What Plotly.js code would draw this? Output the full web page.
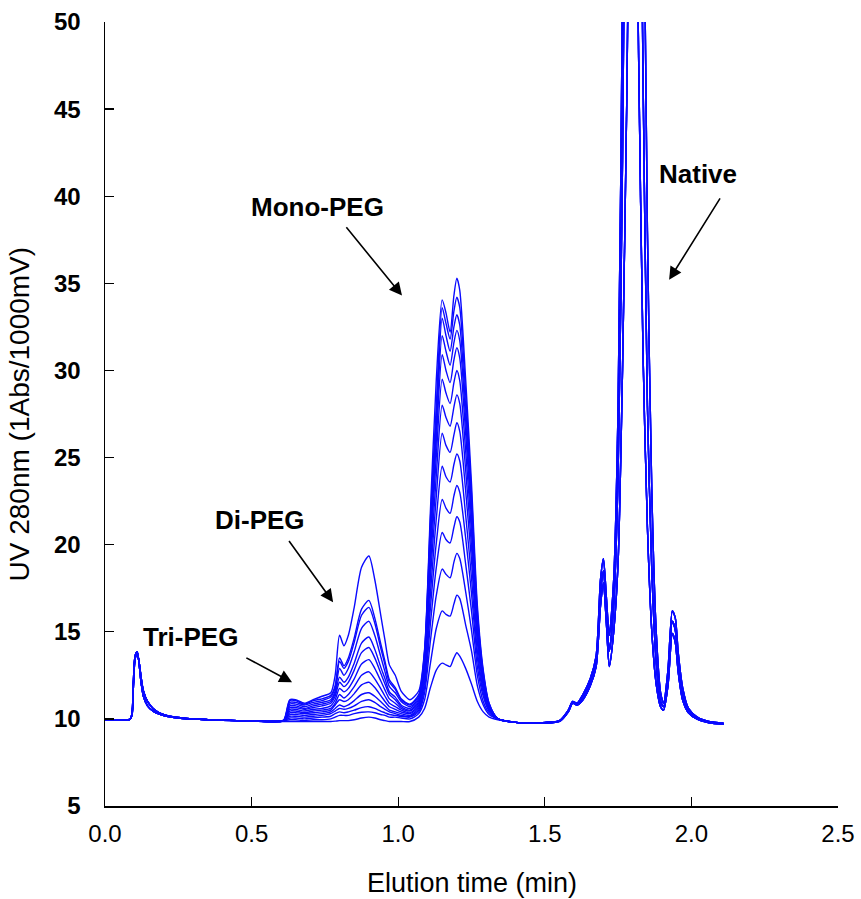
<!DOCTYPE html>
<html><head><meta charset="utf-8">
<script src="https://cdn.plot.ly/plotly-3.0.1.min.js"></script>
<style>html,body{margin:0;padding:0;background:#fff}#chart{width:861px;height:899px}</style>
</head><body><div id="chart"></div>
<script>
// ---- start segment (injection peak), shared ----
const timeStart = [0.00, 0.05, 0.085, 0.092, 0.097, 0.101, 0.105, 0.110, 0.116, 0.123, 0.131, 0.145, 0.164, 0.185, 0.21, 0.25, 0.28, 0.35, 0.45, 0.52];
const uvStartA  = [9.95, 9.95, 9.97, 10.3, 12.2, 13.4, 13.75, 13.85, 13.2, 12.1, 11.3, 10.75, 10.45, 10.28, 10.15, 10.05, 10.0, 9.95, 9.9, 9.87];
const uvStartB  = [9.95, 9.95, 9.97, 10.2, 11.9, 13.2, 13.6, 13.7, 13.3, 12.4, 11.6, 11.0, 10.6, 10.35, 10.2, 10.08, 10.02, 9.96, 9.9, 9.86];

// ---- PEG region (Tri-, Di-, Mono-PEG), one array per run ----
const timeMid = [0.58, 0.61, 0.63, 0.65, 0.68, 0.71, 0.74, 0.77, 0.785, 0.80, 0.815, 0.83, 0.85, 0.875, 0.90, 0.92, 0.94, 0.955, 0.97, 0.99, 1.01, 1.04,
                 1.07, 1.09, 1.11, 1.13, 1.15, 1.163, 1.177, 1.19, 1.20, 1.21, 1.23, 1.25, 1.27, 1.29, 1.31, 1.34, 1.40];
const uvMid01 = [9.85, 9.85, 9.85, 9.85, 9.85, 9.85, 9.85, 9.85, 9.87, 9.9, 9.9, 9.9, 9.95, 10.05, 10.1, 10.05, 9.95, 9.9, 9.85, 9.85, 9.85, 9.85,
                 10.1, 10.6, 11.8, 12.8, 13.2, 13.1, 13.0, 13.5, 13.8, 13.6, 12.9, 12.0, 11.0, 10.4, 10.1, 9.95, 9.8];
const uvMid02 = [9.85, 9.9, 9.95, 9.95, 9.9, 9.95, 9.95, 10.0, 10.1, 10.2, 10.2, 10.2, 10.3, 10.38, 10.4, 10.35, 10.25, 10.2, 10.1, 10.1, 10.05, 10.0,
                 10.3, 11.1, 13.2, 15.2, 16.2, 16.0, 15.9, 16.6, 17.1, 16.9, 15.4, 13.9, 11.9, 10.8, 10.25, 10.0, 9.8];
const uvMid03 = [9.85, 9.9, 10.05, 10.05, 10.0, 10.05, 10.1, 10.15, 10.3, 10.4, 10.35, 10.4, 10.5, 10.65, 10.7, 10.6, 10.45, 10.35, 10.25, 10.2, 10.15, 10.1,
                 10.4, 11.5, 14.5, 17.1, 18.6, 18.3, 18.1, 19.0, 19.5, 19.2, 17.3, 15.1, 12.5, 11.0, 10.35, 10.0, 9.8];
const uvMid04 = [9.85, 9.9, 10.15, 10.15, 10.1, 10.15, 10.2, 10.3, 10.45, 10.6, 10.55, 10.6, 10.75, 11.0, 11.1, 10.95, 10.7, 10.55, 10.4, 10.3, 10.2, 10.15,
                 10.5, 11.8, 15.5, 18.7, 20.7, 20.3, 20.1, 21.0, 21.6, 21.3, 18.9, 16.2, 13.0, 11.3, 10.45, 10.0, 9.8];
const uvMid05 = [9.85, 9.9, 10.25, 10.25, 10.2, 10.25, 10.3, 10.4, 10.6, 10.8, 10.7, 10.8, 11.05, 11.4, 11.5, 11.3, 11.0, 10.75, 10.5, 10.4, 10.3, 10.2,
                 10.6, 12.1, 16.4, 20.1, 22.6, 22.1, 21.8, 22.8, 23.4, 23.0, 20.4, 17.2, 13.5, 11.5, 10.5, 10.0, 9.8];
const uvMid06 = [9.85, 9.9, 10.35, 10.35, 10.3, 10.35, 10.4, 10.5, 10.8, 11.1, 11.0, 11.1, 11.45, 11.95, 12.1, 11.8, 11.35, 11.0, 10.7, 10.55, 10.4, 10.3,
                 10.7, 12.4, 17.2, 21.5, 24.5, 23.9, 23.6, 24.6, 25.2, 24.8, 21.7, 18.1, 13.9, 11.7, 10.55, 10.0, 9.8];
const uvMid07 = [9.85, 9.9, 10.45, 10.45, 10.35, 10.45, 10.5, 10.6, 10.9, 11.4, 11.2, 11.4, 11.85, 12.5, 12.7, 12.3, 11.75, 11.3, 10.9, 10.7, 10.5, 10.35,
                 10.8, 12.7, 18.1, 22.8, 26.4, 25.7, 25.3, 26.3, 27.0, 26.5, 23.1, 19.1, 14.4, 11.9, 10.6, 10.0, 9.8];
const uvMid08 = [9.85, 9.9, 10.55, 10.55, 10.45, 10.55, 10.6, 10.75, 11.1, 11.75, 11.55, 11.75, 12.3, 13.15, 13.4, 12.9, 12.2, 11.65, 11.15, 10.9, 10.6, 10.45,
                 10.9, 13.0, 18.8, 24.0, 28.0, 27.3, 26.8, 27.9, 28.6, 28.1, 24.3, 19.9, 14.8, 12.1, 10.7, 10.0, 9.8];
const uvMid09 = [9.85, 9.9, 10.65, 10.65, 10.55, 10.65, 10.75, 10.9, 11.3, 12.1, 11.85, 12.1, 12.8, 13.8, 14.1, 13.5, 12.65, 12.0, 11.4, 11.1, 10.7, 10.5,
                 11.0, 13.2, 19.5, 25.1, 29.5, 28.7, 28.1, 29.3, 30.0, 29.4, 25.4, 20.7, 15.1, 12.2, 10.7, 10.0, 9.8];
const uvMid10 = [9.85, 9.9, 10.75, 10.75, 10.6, 10.75, 10.85, 11.0, 11.45, 12.4, 12.1, 12.4, 13.2, 14.35, 14.7, 14.0, 13.0, 12.3, 11.55, 11.25, 10.8, 10.6,
                 11.1, 13.4, 20.1, 26.0, 30.9, 30.0, 29.3, 30.6, 31.3, 30.7, 26.4, 21.4, 15.5, 12.4, 10.8, 10.0, 9.8];
const uvMid11 = [9.85, 9.9, 10.85, 10.85, 10.7, 10.85, 10.95, 11.1, 11.6, 12.9, 12.5, 12.9, 13.85, 15.2, 15.6, 14.8, 13.6, 12.7, 11.85, 11.5, 11.0, 10.7,
                 11.2, 13.6, 20.6, 26.7, 32.0, 31.1, 30.3, 31.6, 32.3, 31.7, 27.2, 21.9, 15.7, 12.5, 10.8, 10.0, 9.8];
const uvMid12 = [9.85, 9.9, 10.95, 10.95, 10.8, 10.95, 11.05, 11.25, 11.8, 13.3, 12.9, 13.3, 14.4, 15.95, 16.4, 15.5, 14.1, 13.1, 12.1, 11.7, 11.1, 10.8,
                 11.3, 13.8, 21.0, 27.3, 33.0, 32.0, 31.1, 32.5, 33.2, 32.6, 27.9, 22.4, 15.9, 12.6, 10.8, 10.0, 9.8];
const uvMid13 = [9.85, 9.9, 11.05, 11.05, 10.85, 11.05, 11.15, 11.35, 11.9, 13.5, 13.05, 13.5, 14.65, 16.3, 16.8, 15.8, 14.35, 13.3, 12.25, 11.8, 11.15, 10.85,
                 11.4, 13.9, 21.5, 28.0, 33.6, 32.7, 31.8, 33.4, 34.2, 33.6, 28.7, 22.9, 16.2, 12.7, 10.9, 10.0, 9.8];
const uvMid14 = [9.85, 9.95, 11.1, 11.1, 10.9, 11.1, 11.3, 11.5, 12.5, 14.8, 14.2, 14.8, 16.4, 18.7, 19.35, 18.0, 16.0, 14.5, 13.1, 12.5, 11.6, 11.1,
                 11.6, 14.0, 22.0, 29.5, 34.05, 33.3, 32.2, 34.3, 35.3, 34.6, 29.5, 23.5, 16.5, 12.8, 10.9, 10.0, 9.8];

// ---- Native region, three run variants ----
const timeEnd = [1.45, 1.50, 1.55, 1.58, 1.595, 1.61, 1.63, 1.655, 1.675, 1.69, 1.70, 1.71, 1.72, 1.735, 1.75, 1.765, 1.78, 1.79, 1.80, 1.81, 1.82, 1.835, 1.85, 1.865, 1.88, 1.895, 1.905, 1.92, 1.935, 1.945, 1.955, 1.97, 1.99, 2.02, 2.06, 2.11];
const uvNativeA = [9.75, 9.75, 9.85, 10.4, 10.9, 10.8, 11.1, 11.9, 13.0, 16.5, 17.8, 15.5, 13.0, 15.0, 19.0, 30.0, 46.0, 62.0, 75.0, 62.0, 48.0, 31.0, 21.0, 15.0, 12.0, 10.7, 10.5, 11.9, 14.9, 14.4, 12.7, 11.1, 10.35, 9.98, 9.78, 9.7];
const uvNativeB = [9.75, 9.8, 9.9, 10.5, 11.0, 10.9, 11.4, 12.3, 13.6, 18.0, 19.2, 17.0, 14.8, 18.0, 28.0, 52.0, 95.0, 118.0, 130.0, 118.0, 100.0, 64.0, 38.0, 23.0, 15.0, 11.5, 10.9, 12.8, 16.2, 15.8, 13.8, 11.8, 10.6, 10.1, 9.85, 9.75];
const uvNativeC = [9.75, 9.78, 9.88, 10.45, 10.95, 10.85, 11.25, 12.1, 13.3, 17.2, 18.5, 16.2, 13.9, 16.5, 24.0, 42.0, 72.0, 90.0, 100.0, 90.0, 72.0, 47.0, 28.0, 18.5, 13.2, 11.0, 10.7, 12.4, 15.6, 15.1, 13.3, 11.5, 10.5, 10.05, 9.82, 9.72];

const midRuns = [uvMid01, uvMid02, uvMid03, uvMid04, uvMid05, uvMid06, uvMid07, uvMid08, uvMid09, uvMid10, uvMid11, uvMid12, uvMid13, uvMid14];
const nativeRuns = [uvNativeB, uvNativeB, uvNativeB, uvNativeC, uvNativeB, uvNativeC, uvNativeC, uvNativeA, uvNativeC, uvNativeA, uvNativeC, uvNativeA, uvNativeA, uvNativeA];
const startRuns = [uvStartA, uvStartB];

const xAll = timeStart.concat(timeMid, timeEnd);
const traces = midRuns.map((mid, i) => ({
  type: 'scatter', mode: 'lines',
  x: xAll,
  y: startRuns[i % 2].concat(mid, nativeRuns[i]),
  line: {color: 'rgb(10,10,255)', width: 1.4, shape: 'spline', smoothing: 0.7},
  hoverinfo: 'x+y', showlegend: false
}));

const sans = 'Liberation Sans, Arial, Helvetica, sans-serif';
const annFont = {family: sans, size: 26, color: '#000', weight: 'bold'};
const arrow = (x0, y0, x1, y1) => ({
  x: x1, y: y1, ax: x0, ay: y0, xref: 'x', yref: 'y', axref: 'x', ayref: 'y',
  text: '', showarrow: true, arrowhead: 2, arrowsize: 1.6, arrowwidth: 1.6, arrowcolor: '#000'
});
const label = (x, y, t) => ({x: x, y: y, xref: 'x', yref: 'y', text: t, showarrow: false, font: annFont});

const layout = {
  width: 861, height: 899,
  margin: {l: 105, r: 23, t: 22, b: 93},
  paper_bgcolor: '#fff', plot_bgcolor: '#fff',
  showlegend: false,
  xaxis: {
    range: [0, 2.5], dtick: 0.5, tick0: 0, tickformat: '.1f',
    ticks: 'inside', ticklen: 9, tickwidth: 1.3, tickcolor: '#000',
    showline: true, linecolor: '#000', linewidth: 1.5, mirror: false,
    showgrid: false, zeroline: false, ticklabelstandoff: 6,
    tickfont: {family: sans, size: 24, color: '#000'}
  },
  yaxis: {
    range: [5, 50], dtick: 5, tick0: 5,
    ticks: 'inside', ticklen: 9, tickwidth: 1.3, tickcolor: '#000',
    showline: true, linecolor: '#000', linewidth: 1.5, mirror: false,
    showgrid: false, zeroline: false, ticklabelstandoff: 18,
    tickfont: {family: sans, size: 24, color: '#000', weight: 'bold'}
  },
  annotations: [
    {xref: 'paper', yref: 'paper', x: 0.5, y: -0.098, text: 'Elution time (min)', showarrow: false,
     xanchor: 'center', yanchor: 'middle', font: {family: sans, size: 27, color: '#000'}},
    {xref: 'paper', yref: 'paper', x: -0.118, y: 0.5, text: 'UV 280nm (1Abs/1000mV)', showarrow: false, textangle: -90,
     xanchor: 'center', yanchor: 'middle', font: {family: sans, size: 28, color: '#000'}},
    label(2.022, 41.3, 'Native'),
    arrow(2.101, 39.96, 1.924, 35.2),
    label(0.726, 39.4, 'Mono-PEG'),
    arrow(0.819, 38.3, 1.013, 34.3),
    label(0.529, 21.4, 'Di-PEG'),
    arrow(0.624, 20.3, 0.778, 16.7),
    label(0.29, 14.7, 'Tri-PEG'),
    arrow(0.477, 13.55, 0.638, 12.1)
  ]
};

Plotly.newPlot('chart', traces, layout, {displayModeBar: false, staticPlot: true});
</script>
</body></html>
